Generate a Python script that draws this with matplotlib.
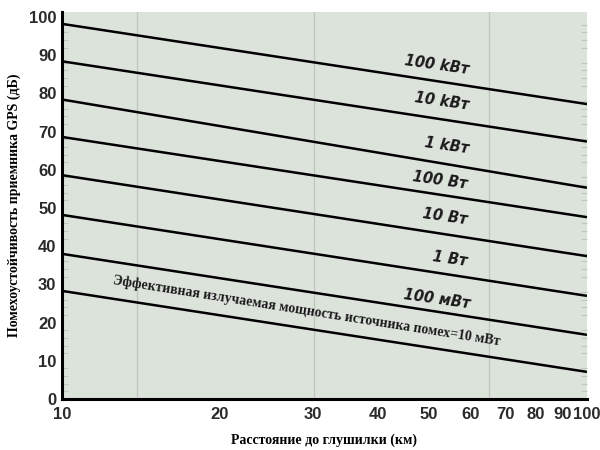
import numpy as np
import matplotlib.pyplot as plt
from matplotlib.ticker import FixedLocator, NullFormatter

# Дальность до постановщика помех (км) — концы прямых
distance = [10, 100]

# Помехоустойчивость (дБ) на 10 км и на 100 км для каждой мощности
power_labels = ['100 kВт', '10 kВт', '1 kВт', '100 Вт', '10 Вт', '1 Вт', '100 мВт', '10 мВт']
level_10km = [98.2, 88.4, 78.4, 68.6, 58.6, 48.2, 38.0, 28.3]
level_100km = [77.2, 67.4, 55.3, 47.6, 37.4, 27.0, 16.8, 7.1]

x_ticks = [10, 20, 30, 40, 50, 60, 70, 80, 90, 100]
y_ticks = [0, 10, 20, 30, 40, 50, 60, 70, 80, 90, 100]
seams = [13.9, 30.2, 65.0]

bg = '#DCE3DB'

fig = plt.figure(figsize=(6, 4.5), dpi=100)
fig.patch.set_facecolor('white')
ax = fig.add_axes([0.1033, 0.1133, 0.875, 0.86])
ax.set_facecolor(bg)
ax.set_xscale('log')
ax.set_xlim(10, 100)
ax.set_ylim(0, 101.3)

# светлые вертикальные линии
for s in seams:
    ax.axvline(s, color='#BEC5BD', lw=0.9, zorder=1)

for lo, hi in zip(level_10km, level_100km):
    ax.plot(distance, [lo, hi], color='black', lw=1.8, solid_capstyle='butt', zorder=3)

# подписи мощностей над линиями
label_pos = [(51.8, 87.4), (53.0, 78.0), (54.0, 66.2), (52.5, 57.3),
             (53.7, 47.6), (54.8, 36.6), (51.8, 26.2)]
for (lx, ly), txt in zip(label_pos, power_labels[:7]):
    ax.text(lx, ly, txt, fontsize=10.5, fontweight='bold', fontstyle='italic',
            family='DejaVu Sans', color='#1a1a1a', rotation=-8,
            ha='center', va='center', zorder=4)

ax.text(29.2, 23.0, 'Эффективная излучаемая мощность источника помех=10 мВт',
        fontsize=10, fontweight='bold', family='Liberation Serif', color='#1a1a1a',
        rotation=-9, ha='center', va='center', zorder=4)

ax.xaxis.set_major_locator(FixedLocator(x_ticks))
ax.xaxis.set_minor_locator(FixedLocator([]))
ax.xaxis.set_minor_formatter(NullFormatter())
ax.set_xticklabels([str(v) for v in x_ticks])
ax.set_yticks(y_ticks)
ax.tick_params(axis='both', length=0, labelsize=12, labelcolor='#2a2a2a')
ax.tick_params(axis='x', pad=6)
ax.tick_params(axis='y', pad=4)
for lab in ax.get_xticklabels() + ax.get_yticklabels():
    lab.set_fontweight('bold')
    lab.set_family('Liberation Sans')

# мелкие риски внутри поля
ax.yaxis.set_minor_locator(FixedLocator(np.arange(2, 100, 2)))
ax.tick_params(axis='y', which='minor', direction='in', length=4, width=0.8,
               color='#C2C9C1', left=True, right=True)

for side in ['top', 'right']:
    ax.spines[side].set_visible(False)
ax.spines['left'].set_linewidth(2.2)
ax.spines['bottom'].set_linewidth(2.2)

ax.set_xlabel('Расстояние до глушилки (км)', fontsize=10, fontweight='bold',
              family='Liberation Serif', labelpad=8)
ax.set_ylabel('Помехоустойчивость приемника GPS (дБ)', fontsize=10, fontweight='bold',
              family='Liberation Serif', labelpad=6)

fig.savefig('out.png', dpi=100)
